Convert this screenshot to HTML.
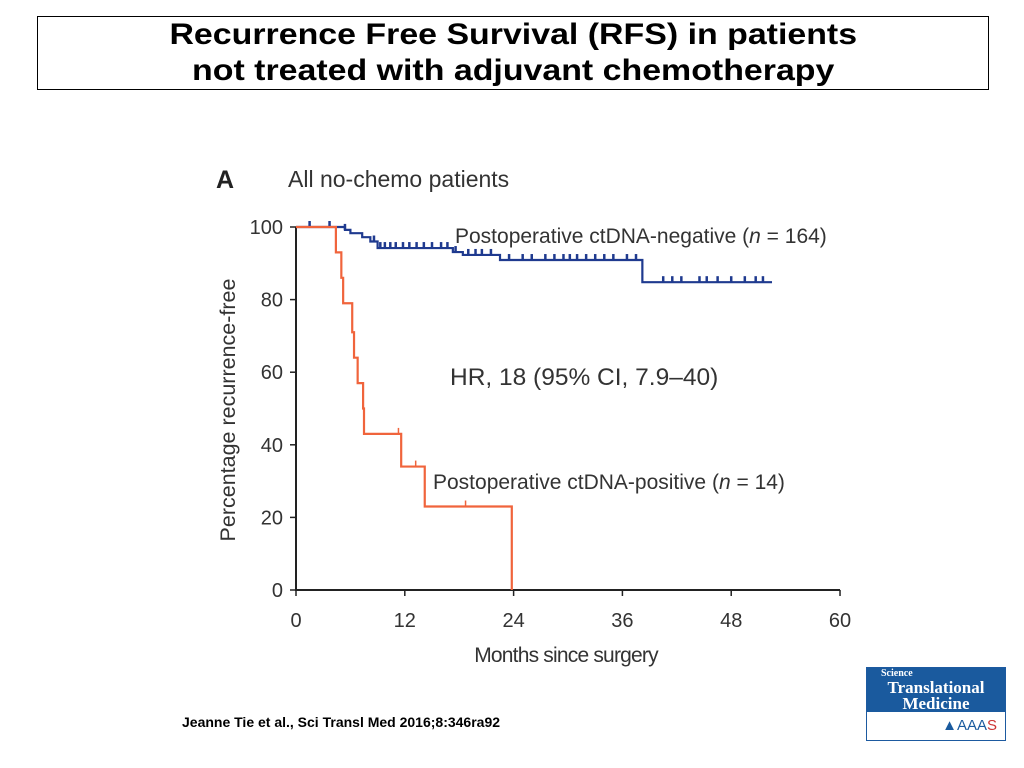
<!DOCTYPE html>
<html><head><meta charset="utf-8"><style>
body{margin:0;width:1024px;height:768px;background:#fff;position:relative;overflow:hidden;font-family:"Liberation Sans",sans-serif}
.title{position:absolute;left:37px;top:16px;width:950px;height:72px;border:1px solid #000;text-align:center;font-weight:bold;font-size:30px;line-height:36px}
.title span{display:inline-block;transform:scaleX(1.13)}
.cite{position:absolute;left:182px;top:714px;font-size:14px;font-weight:bold}
.logo{position:absolute;left:866px;top:667px;width:138px;height:72px;border:1px solid #1d5aa0;background:#fff;overflow:hidden}
.logo .top{background:#1a5a9e;height:44px;color:#fff;font-family:"Liberation Serif",serif;font-weight:bold;text-align:center;line-height:15px}
</style></head><body>
<div class="title"><span>Recurrence Free Survival (RFS) in patients</span><br><span>not treated with adjuvant chemotherapy</span></div>
<svg width="1024" height="768" style="position:absolute;left:0;top:0" id="chart" font-family="Liberation Sans, sans-serif"></svg>
<div class="cite">Jeanne Tie et al., Sci Transl Med 2016;8:346ra92</div>
<div class="logo">
<div class="top"><span style="font-size:10px;display:block;text-align:left;padding-left:14px;line-height:12px">Science</span><span style="font-size:17px">Translational</span><br><span style="font-size:17px">Medicine</span></div>
<div style="text-align:right;padding-right:8px;font-size:15px;color:#1a5a9e;line-height:27px">▲AAA<span style="color:#c33">S</span></div>
</div>
<script>
const xTicks=[0,12,24,36,48,60];
const yTicks=[0,20,40,60,80,100];
const negTimes=[0,5.4,6.0,7.3,8.2,9.0,17.3,18.4,22.5,38.2,51.5];
const negSurv=[100,99.2,98.3,97.2,96,94.2,93.1,92.3,90.9,84.8,84.8];
const negCensor=[1.5,3.7,5.4,8.6,9.3,9.8,10.4,11,11.8,12.5,13.3,14.1,15,16,16.7,17.6,19,19.8,20.5,21.5,23.5,25,26,27.5,28.5,29.5,30.2,31,32,33,34,35,36.5,37.5,40.5,41.5,42.5,44.5,45.3,46.5,48,49.5,50.7,51.5];
const posTimes=[0,4.4,5.0,5.2,6.2,6.4,6.8,7.4,7.5,11.6,14.2,23.8];
const posSurv=[100,100,93,86,79,71,64,57,50,43,34,23,0];
const posCensor=[11.3,13.2,18.7];
const svg=document.getElementById('chart');
const NS='http://www.w3.org/2000/svg';
const X=m=>296+m*9.067, Y=p=>590-p*3.63;
function el(t,a,txt){const e=document.createElementNS(NS,t);for(const k in a)e.setAttribute(k,a[k]);if(txt!==undefined)e.textContent=txt;svg.appendChild(e);return e;}
let e;
e=el('path',{d:`M${X(0)} ${Y(100)}V${Y(0)}H${X(60)}`,fill:'none',stroke:'#222','stroke-width':2});

xTicks.forEach(v=>{e=el('line',{x1:X(v),x2:X(v),y1:Y(0),y2:Y(0)+6,stroke:'#222','stroke-width':1.5});

e=el('text',{x:X(v),y:627,'text-anchor':'middle','font-size':20,fill:'#333'},v);
});
yTicks.forEach(v=>{e=el('line',{x1:X(0)-6,x2:X(0),y1:Y(v),y2:Y(v),stroke:'#222','stroke-width':1.5});

e=el('text',{x:283,y:Y(v)+7,'text-anchor':'end','font-size':20,fill:'#333'},v);
});
e=el('text',{x:566,y:662,'text-anchor':'middle','font-size':21,fill:'#333','letter-spacing':'-0.8'},'Months since surgery');

e=el('text',{x:235,y:410,'text-anchor':'middle','font-size':21.5,fill:'#333',transform:'rotate(-90 235 410)'},'Percentage recurrence-free');

e=el('text',{x:216,y:188,'font-size':25,'font-weight':'bold',fill:'#222'},'A');

e=el('text',{x:288,y:187,'font-size':23,fill:'#333'},'All no-chemo patients');

let d=`M${X(negTimes[0])} ${Y(negSurv[0])}`;
for(let i=1;i<negTimes.length;i++){d+=`H${X(negTimes[i])}V${Y(negSurv[i])}`;}
d+=`H${X(52.5)}`;
e=el('path',{d,fill:'none',stroke:'#1f3a8f','stroke-width':2.2});

function sNeg(t){let s=100;for(let i=0;i<negTimes.length;i++)if(negTimes[i]<=t)s=negSurv[i];return s;}
negCensor.forEach(t=>{e=el('line',{x1:X(t),x2:X(t),y1:Y(sNeg(t))-6,y2:Y(sNeg(t)),stroke:'#1f3a8f','stroke-width':2.5});
});
d=`M${X(0)} ${Y(100)}`;
for(let i=1;i<posTimes.length;i++){d+=`H${X(posTimes[i])}V${Y(posSurv[i+1])}`;}
e=el('path',{d,fill:'none',stroke:'#f0643c','stroke-width':2.2});

function sPos(t){let s=100;for(let i=0;i<posTimes.length;i++)if(posTimes[i]<=t)s=posSurv[i+1];return s;}
posCensor.forEach(t=>{e=el('line',{x1:X(t),x2:X(t),y1:Y(sPos(t))-6,y2:Y(sPos(t)),stroke:'#f0643c','stroke-width':1.5});
});
e=el('text',{x:455,y:243,'font-size':21,fill:'#333'});e.innerHTML='Postoperative ctDNA-negative (<tspan font-style="italic">n</tspan> = 164)';

e=el('text',{x:433,y:489,'font-size':21,fill:'#333'});e.innerHTML='Postoperative ctDNA-positive (<tspan font-style="italic">n</tspan> = 14)';

e=el('text',{x:450,y:385,'font-size':24.5,fill:'#333'},'HR, 18 (95% CI, 7.9–40)');

</script>
</body></html>
